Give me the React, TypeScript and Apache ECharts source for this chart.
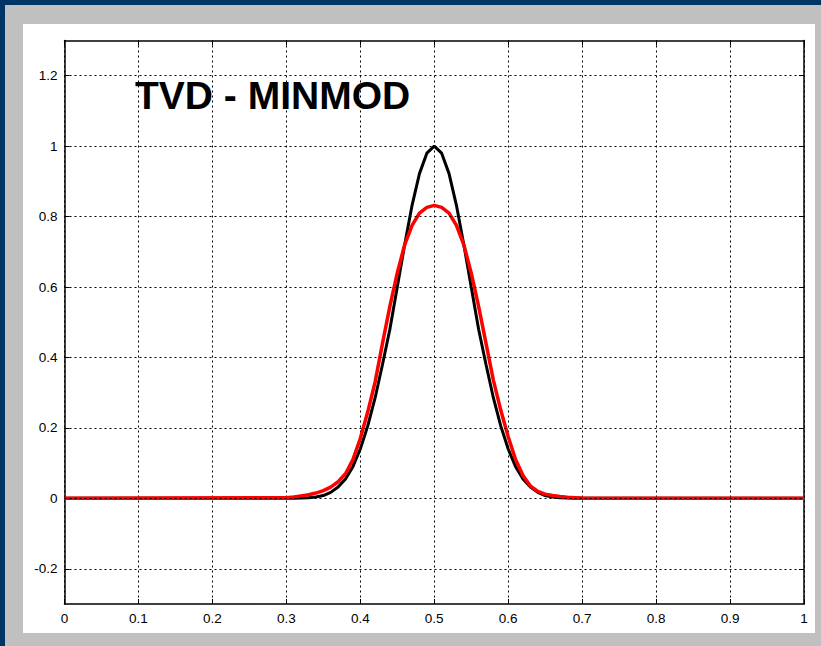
import React, { useEffect, useRef } from "react";
import * as echarts from "echarts";

const xValues = [0, 0.30, 0.31, 0.32, 0.33, 0.34, 0.35, 0.36, 0.37, 0.38, 0.39, 0.40, 0.41, 0.42, 0.43, 0.44, 0.45, 0.46, 0.47, 0.48, 0.49, 0.50, 0.51, 0.52, 0.53, 0.54, 0.55, 0.56, 0.57, 0.58, 0.59, 0.60, 0.61, 0.62, 0.63, 0.64, 0.65, 0.66, 0.67, 0.68, 0.69, 0.70, 1];
const exactValues = [0, 0, 0.0005, 0.001, 0.002, 0.004, 0.008, 0.017, 0.032, 0.055, 0.09, 0.14, 0.205, 0.285, 0.38, 0.48, 0.60, 0.72, 0.832, 0.922, 0.98, 1, 0.98, 0.922, 0.832, 0.72, 0.60, 0.48, 0.38, 0.285, 0.205, 0.14, 0.09, 0.055, 0.032, 0.017, 0.008, 0.004, 0.002, 0.001, 0.0005, 0, 0];
const minmodValues = [0, 0.002, 0.004, 0.007, 0.01, 0.015, 0.022, 0.032, 0.047, 0.07, 0.11, 0.17, 0.245, 0.33, 0.44, 0.545, 0.64, 0.72, 0.775, 0.81, 0.826, 0.832, 0.826, 0.81, 0.775, 0.72, 0.64, 0.545, 0.44, 0.335, 0.25, 0.175, 0.11, 0.065, 0.035, 0.02, 0.012, 0.008, 0.005, 0.003, 0.002, 0.001, 0];
const yTickValues = [-0.2, 0, 0.2, 0.4, 0.6, 0.8, 1, 1.2];
const titleText = "TVD - MINMOD";

const FONT = "'Liberation Sans', Arial, Helvetica, sans-serif";

export default function App() {
  const ref = useRef<HTMLDivElement>(null);
  useEffect(() => {
    if (!ref.current) return;
    const chart = echarts.init(ref.current, null, { renderer: "svg" });
    const exactData = xValues.map((x, i) => [x, exactValues[i]]);
    const minmodData = xValues.map((x, i) => [x, minmodValues[i]]);
    const gridLine = { type: [2, 3] as any, color: "#000", width: 1 };
    chart.setOption({
      animation: false,
      backgroundColor: "#003366",
      graphic: [
        { type: "rect", z: -10, shape: { x: 5, y: 5, width: 816, height: 641 }, style: { fill: "#c0c0c0" } },
        { type: "rect", z: -9, shape: { x: 23, y: 24, width: 792, height: 609 }, style: { fill: "#ffffff" } },
        {
          type: "text",
          z: 100,
          left: 135,
          top: 76,
          style: { text: titleText, fontSize: 39, fontWeight: "bold", fontFamily: FONT, fill: "#000" },
        },
      ],
      grid: { left: 64.5, top: 40.5, right: 17, bottom: 42, containLabel: false },
      xAxis: [
        {
          type: "value",
          min: 0,
          max: 1,
          interval: 0.1,
          position: "bottom",
          axisLine: { show: true, onZero: false, lineStyle: { color: "#000", width: 1.5 } },
          axisTick: { show: true, inside: true, length: 5, lineStyle: { color: "#000" } },
          axisLabel: { color: "#000", fontSize: 13.5, fontFamily: FONT, margin: 7 },
          splitLine: { show: true, lineStyle: gridLine },
        },
        {
          type: "value",
          min: 0,
          max: 1,
          interval: 0.1,
          position: "top",
          axisLine: { show: true, onZero: false, lineStyle: { color: "#000", width: 1.5 } },
          axisTick: { show: true, inside: true, length: 5, lineStyle: { color: "#000" } },
          axisLabel: { show: false },
          splitLine: { show: false },
        },
      ],
      yAxis: [
        {
          type: "value",
          min: -0.3,
          max: 1.3,
          position: "left",
          axisLine: { show: true, onZero: false, lineStyle: { color: "#000", width: 1.5 } },
          axisTick: { show: true, inside: true, length: 5, customValues: yTickValues, lineStyle: { color: "#000" } },
          axisLabel: { color: "#000", fontSize: 13.5, fontFamily: FONT, margin: 7, customValues: yTickValues },
          splitLine: { show: false },
        },
        {
          type: "value",
          min: -0.3,
          max: 1.3,
          position: "right",
          axisLine: { show: true, onZero: false, lineStyle: { color: "#000", width: 1.5 } },
          axisTick: { show: true, inside: true, length: 5, customValues: yTickValues, lineStyle: { color: "#000" } },
          axisLabel: { show: false, customValues: yTickValues },
          splitLine: { show: false },
        },
      ],
      series: [
        {
          type: "line",
          name: "grid",
          z: 1,
          data: [],
          silent: true,
          markLine: {
            silent: true,
            symbol: ["none", "none"],
            label: { show: false },
            lineStyle: gridLine,
            emphasis: { disabled: true },
            data: yTickValues.map((v) => ({ yAxis: v })),
          },
        },
        {
          type: "line",
          name: "exact",
          z: 3,
          data: exactData,
          showSymbol: false,
          symbol: "none",
          lineStyle: { color: "#000", width: 3 },
        },
        {
          type: "line",
          name: "minmod",
          z: 4,
          data: minmodData,
          showSymbol: false,
          symbol: "none",
          lineStyle: { color: "#ff0000", width: 3.5 },
        },
      ],
    });
    return () => chart.dispose();
  }, []);
  return (
    <div
      ref={ref}
      style={{ position: "absolute", left: 0, top: 0, width: 821, height: 646 }}
    />
  );
}
